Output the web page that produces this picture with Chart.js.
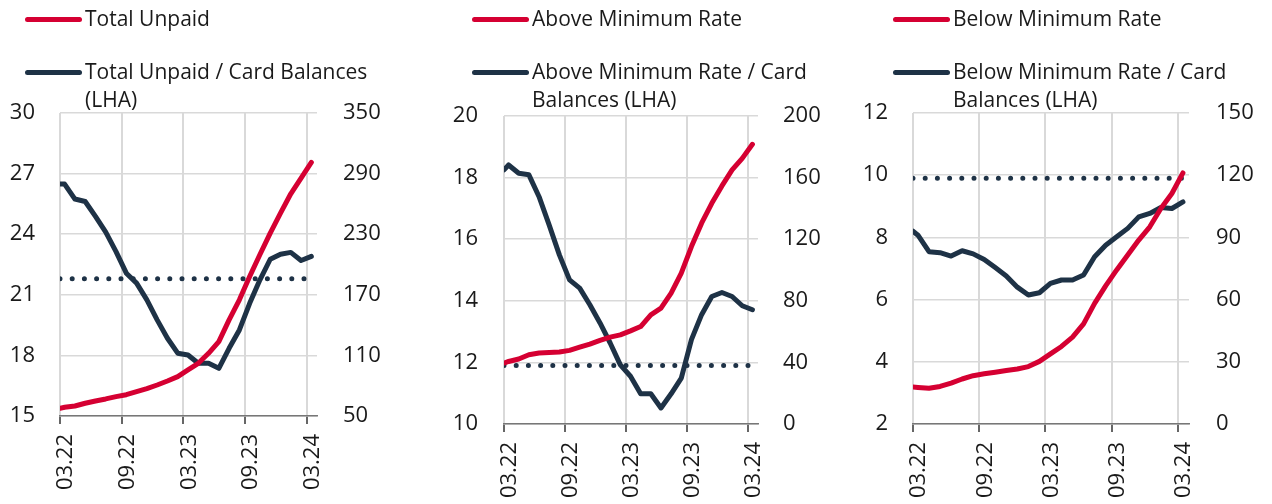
<!DOCTYPE html>
<html lang="en">
<head>
<meta charset="UTF-8">
<title>Unpaid card balances</title>
<script src="https://cdn.jsdelivr.net/npm/chart.js"></script>
<style>
  body { margin: 0; background: #fff; font-family: 'Open Sans', sans-serif; color: #1a1a1a; }
  .wrap { position: relative; width: 1272px; height: 504px; overflow: hidden; }
  canvas { position: absolute; top: 0; }
  .key { position: absolute; height: 5px; width: 57px; border-radius: 3px; }
  .txt { position: absolute; font-size: 21px; line-height: 28px; white-space: nowrap; }
</style>
</head>
<body>
<div class="wrap">
  <canvas id="c1" width="420" height="504" style="left:0px"></canvas>
  <canvas id="c2" width="430" height="504" style="left:420px"></canvas>
  <canvas id="c3" width="422" height="504" style="left:850px"></canvas>

  <!-- legends -->
  <div class="key" style="left:25px; top:17px; background:#d50032"></div>
  <div class="txt" style="left:85px; top:4px">Total Unpaid</div>
  <div class="key" style="left:25px; top:70px; background:#1e3246"></div>
  <div class="txt" style="left:85px; top:57px">Total Unpaid / Card Balances<br>(LHA)</div>

  <div class="key" style="left:472px; top:17px; background:#d50032"></div>
  <div class="txt" style="left:532px; top:4px">Above Minimum Rate</div>
  <div class="key" style="left:472px; top:70px; background:#1e3246"></div>
  <div class="txt" style="left:532px; top:57px">Above Minimum Rate / Card<br>Balances (LHA)</div>

  <div class="key" style="left:893px; top:17px; background:#d50032"></div>
  <div class="txt" style="left:953px; top:4px">Below Minimum Rate</div>
  <div class="key" style="left:893px; top:70px; background:#1e3246"></div>
  <div class="txt" style="left:953px; top:57px">Below Minimum Rate / Card<br>Balances (LHA)</div>
</div>

<script>
// months since 03.22 (first value is the line start)
const monthPos = [0, 0.45, 1.45, 2.45, 3.45, 4.45, 5.45, 6.45, 7.45, 8.45, 9.45, 10.45, 11.45,
  12.45, 13.45, 14.45, 15.45, 16.45, 17.45, 18.45, 19.45, 20.45, 21.45, 22.45, 23.45, 24.45];
const xTickLabels = ['03.22', '09.22', '03.23', '09.23', '03.24'];

// Total
const totalRatio = [26.48, 26.48, 25.74, 25.62, 24.88, 24.10, 23.14, 22.07, 21.58, 20.75, 19.76, 18.85, 18.11,
  18.02, 17.61, 17.61, 17.36, 18.35, 19.26, 20.58, 21.74, 22.76, 23.01, 23.10, 22.70, 22.90];
const totalUnpaid = [57.6, 58.6, 59.9, 62.6, 64.9, 66.9, 69.2, 71.1, 74.1, 77.1, 80.7, 84.7, 89.0,
  95.6, 102.2, 112.1, 123.7, 145.2, 165.0, 188.1, 209.9, 231.1, 250.9, 270.0, 285.6, 301.1];
const totalAvg = 21.8;

// Above minimum rate
const aboveRatio = [18.25, 18.41, 18.14, 18.09, 17.38, 16.46, 15.49, 14.68, 14.41, 13.87, 13.28, 12.63, 11.92,
  11.55, 10.98, 10.98, 10.52, 10.98, 11.49, 12.74, 13.55, 14.14, 14.27, 14.14, 13.84, 13.71];
const aboveUnpaid = [39.6, 40.6, 42.2, 45.0, 46.1, 46.5, 46.7, 47.8, 49.9, 51.9, 54.3, 56.4, 57.9,
  60.5, 63.3, 70.9, 75.2, 85.0, 97.9, 115.2, 130.4, 143.3, 154.6, 165.0, 172.5, 181.6];
const aboveAvg = 11.9;

// Below minimum rate
const belowRatio = [8.20, 8.07, 7.54, 7.51, 7.40, 7.57, 7.47, 7.29, 7.03, 6.76, 6.40, 6.15, 6.22,
  6.52, 6.63, 6.63, 6.79, 7.38, 7.75, 8.02, 8.29, 8.66, 8.77, 8.96, 8.93, 9.14];
const belowUnpaid = [17.8, 17.6, 17.2, 18.1, 19.7, 21.7, 23.3, 24.2, 25.0, 25.8, 26.5, 27.7, 30.2,
  33.8, 37.4, 41.9, 48.3, 58.2, 66.6, 74.3, 81.5, 88.7, 95.1, 103.9, 111.2, 121.1];
const belowAvg = 9.9;

const RED = '#d50032';
const NAVY = '#1e3246';
const tickFont = { family: 'Open Sans', size: 22 };

function pts(vals) {
  return monthPos.map((m, i) => ({ x: m, y: vals[i] }));
}

function makePanel(id, p) {
  new Chart(document.getElementById(id), {
    type: 'line',
    data: {
      datasets: [
        { data: pts(p.unpaid), yAxisID: 'yR', borderColor: RED, borderWidth: 5, order: 1 },
        { data: pts(p.ratio), yAxisID: 'yL', borderColor: NAVY, borderWidth: 5, order: 2 },
        {
          data: [{ x: monthPos[0], y: p.avg }, { x: monthPos[monthPos.length - 1], y: p.avg }],
          yAxisID: 'yL', borderColor: NAVY, borderWidth: 5, borderDash: [0, 12.2], order: 3
        }
      ]
    },
    options: {
      responsive: false,
      animation: false,
      layout: { padding: { top: p.top, bottom: 0, left: 0, right: 0 } },
      elements: {
        point: { radius: 0 },
        line: { tension: 0, borderCapStyle: 'round', borderJoinStyle: 'round' }
      },
      plugins: { legend: { display: false }, tooltip: { enabled: false } },
      scales: {
        x: {
          type: 'linear', min: 0, max: 25,
          afterFit: s => { s.height = 504 - p.bottom; },
          grid: { color: '#d9d9d9', lineWidth: 2, tickLength: 8, tickColor: '#666' },
          border: { display: true, color: '#777', width: 1.5 },
          ticks: {
            stepSize: 6, includeBounds: false, autoSkip: false,
            minRotation: 90, maxRotation: 90, padding: 10, labelOffset: 6,
            font: tickFont, color: '#1a1a1a',
            callback: v => xTickLabels[v / 6]
          }
        },
        yL: {
          position: 'left', min: p.lMin, max: p.lMax,
          afterFit: s => { s.width = p.leftW; },
          grid: { color: '#d9d9d9', lineWidth: 1.5, drawTicks: false },
          border: { display: false },
          ticks: { stepSize: p.lStep, padding: p.lPad, font: tickFont, color: '#1a1a1a' }
        },
        yR: {
          position: 'right', min: p.rMin, max: p.rMax,
          afterFit: s => { s.width = p.rightW; },
          grid: { display: false, drawTicks: false },
          border: { display: false },
          ticks: { stepSize: p.rStep, padding: p.rPad, font: tickFont, color: '#1a1a1a' }
        }
      }
    }
  });
}

makePanel('c1', {
  ratio: totalRatio, unpaid: totalUnpaid, avg: totalAvg,
  lMin: 15, lMax: 30, lStep: 3, rMin: 50, rMax: 350, rStep: 60,
  top: 113, bottom: 416, leftW: 60, rightW: 103, lPad: 25, rPad: 26
});
makePanel('c2', {
  ratio: aboveRatio, unpaid: aboveUnpaid, avg: aboveAvg,
  lMin: 10, lMax: 20, lStep: 2, rMin: 0, rMax: 200, rStep: 40,
  top: 116, bottom: 424, leftW: 84, rightW: 92, lPad: 26, rPad: 25
});
makePanel('c3', {
  ratio: belowRatio, unpaid: belowUnpaid, avg: belowAvg,
  lMin: 2, lMax: 12, lStep: 2, rMin: 0, rMax: 150, rStep: 30,
  top: 113, bottom: 424, leftW: 63, rightW: 83, lPad: 25, rPad: 27
});
</script>
</body>
</html>
